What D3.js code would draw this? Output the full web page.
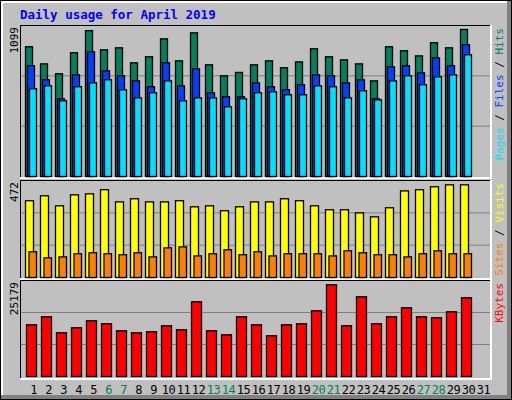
<!DOCTYPE html>
<html><head><meta charset="utf-8">
<script src="https://cdn.jsdelivr.net/npm/d3@7"></script>
<style>body{margin:0;background:#fff}</style>
</head><body>
<script>
const days = d3.range(1, 32);
const weekend = [6,7,13,14,20,21,27,28];
const hits  = [970,842,768,925,1090,947,962,850,895,1029,865,1074,835,753,778,835,865,813,857,955,895,872,842,715,970,940,902,1000,962,1099,0];
const files = [828,723,581,760,932,790,753,715,671,850,678,805,626,596,596,700,671,648,686,760,753,700,723,581,820,828,775,887,828,985,0];
const pages = [656,678,566,671,700,723,648,588,626,715,566,588,588,521,581,626,633,611,611,678,671,588,641,573,715,753,686,745,760,910,0];
const visits= [391,416,365,421,426,447,385,401,385,385,391,360,365,340,360,385,385,401,391,365,345,345,329,309,355,441,447,462,472,472,0];
const sites = [131,100,105,121,126,121,116,126,105,151,156,110,121,141,116,131,110,121,121,121,110,136,126,116,116,105,121,136,121,121,0];
const kbytes= [14196,16392,12000,13372,15294,14470,12548,12000,12274,13921,12823,20511,12548,11450,16392,14196,11175,14196,14470,18040,25179,13921,21884,14470,16392,18864,16392,16118,17765,21610,0];

const W=512,H=400;
const svg=d3.select("body").append("svg").attr("width",W).attr("height",H);
const font="DejaVu Sans Mono, monospace";
svg.append("rect").attr("width",W).attr("height",H).attr("fill","#c0c0c0");
svg.append("rect").attr("x",0.5).attr("y",0.5).attr("width",W-1).attr("height",H-1).attr("fill","none").attr("stroke","#000");
svg.append("rect").attr("x",1).attr("y",1).attr("width",W-2).attr("height",2).attr("fill","#fff");
svg.append("rect").attr("x",1).attr("y",1).attr("width",2).attr("height",H-2).attr("fill","#fff");
svg.append("rect").attr("x",W-5).attr("y",1).attr("width",4).attr("height",H-2).attr("fill","#808080");
svg.append("rect").attr("x",1).attr("y",H-5).attr("width",W-2).attr("height",4).attr("fill","#808080");

svg.append("text").attr("x",20).attr("y",19).attr("fill","#0000ff").attr("font-family",font)
  .attr("font-weight","bold").attr("font-size",12.5).text("Daily usage for April 2019");

const x=d3.scaleBand().domain(days).range([25,490]).paddingInner(0).paddingOuter(0);
const step=x.step();

function panel(top,bottom,base,maxY,maxV,label,labels){
  svg.append("rect").attr("x",20.5).attr("y",top+0.5).attr("width",470).attr("height",bottom-top)
    .attr("fill","#c0c0c0").attr("stroke","#000");
  svg.append("line").attr("x1",491).attr("x2",491).attr("y1",top).attr("y2",bottom+1).attr("stroke","#fff").attr("stroke-width",2);
  svg.append("line").attr("x1",20).attr("x2",492).attr("y1",bottom+1).attr("y2",bottom+1).attr("stroke","#fff").attr("stroke-width",2);
  const y=d3.scaleLinear().domain([0,maxV]).range([base,maxY]);
  const g=(base-top)/3;
  [1,2].forEach(i=>svg.append("line").attr("x1",21).attr("x2",490).attr("y1",base-g*i+0.5).attr("y2",base-g*i+0.5).attr("stroke","#808080"));
  svg.append("text").attr("transform",`translate(18,${top+2}) rotate(-90)`).attr("text-anchor","end")
    .attr("font-family",font).attr("font-size",11).attr("fill","#000").text(label);
  const t=svg.append("text").attr("transform",`translate(503,${top+3}) rotate(-90)`).attr("text-anchor","end")
    .attr("font-family",font).attr("font-size",11);
  labels.forEach((l,i)=>{ if(i) t.append("tspan").attr("fill","#000").text(" / "); t.append("tspan").attr("fill",l[1]).text(l[0]); });
  return y;
}
function bars(y,data,off,w,color){
  svg.append("g").selectAll("rect").data(data.map((v,i)=>[days[i],v]).filter(d=>d[1]>0)).join("rect")
    .attr("x",d=>x(d[0])+off+0.5).attr("y",d=>y(d[1])+0.5).attr("width",w).attr("height",d=>y(0)-y(d[1]))
    .attr("fill",color).attr("stroke","#000").attr("stroke-width",1.3);
}
const y1=panel(25,177,176,29,1099,"1099",[["Pages","#00e0ff"],["Files","#0040ff"],["Hits","#00805c"]]);
bars(y1,hits,0,7,"#00805c");
bars(y1,files,2,7,"#0040ff");
bars(y1,pages,4,7,"#00e0ff");
const y2=panel(180,278,277,184.3,472,"472",[["Sites","#ff8000"],["Visits","#ffff00"]]);
bars(y2,visits,0,8,"#ffff00");
bars(y2,sites,3.5,7.5,"#ff8000");
const y3=panel(280,378,376,284.3,25179,"25179",[["KBytes","#ff0000"]]);
bars(y3,kbytes,1,10,"#ff0000");

svg.append("g").selectAll("text").data(days).join("text")
  .attr("x",d=>x(d)+step/2+1).attr("y",394).attr("text-anchor","middle").attr("font-family",font).attr("font-size",12)
  .attr("letter-spacing",-0.5)
  .attr("fill",d=>weekend.includes(d)?"#00805c":"#000").text(d=>d);
</script>
</body></html>
